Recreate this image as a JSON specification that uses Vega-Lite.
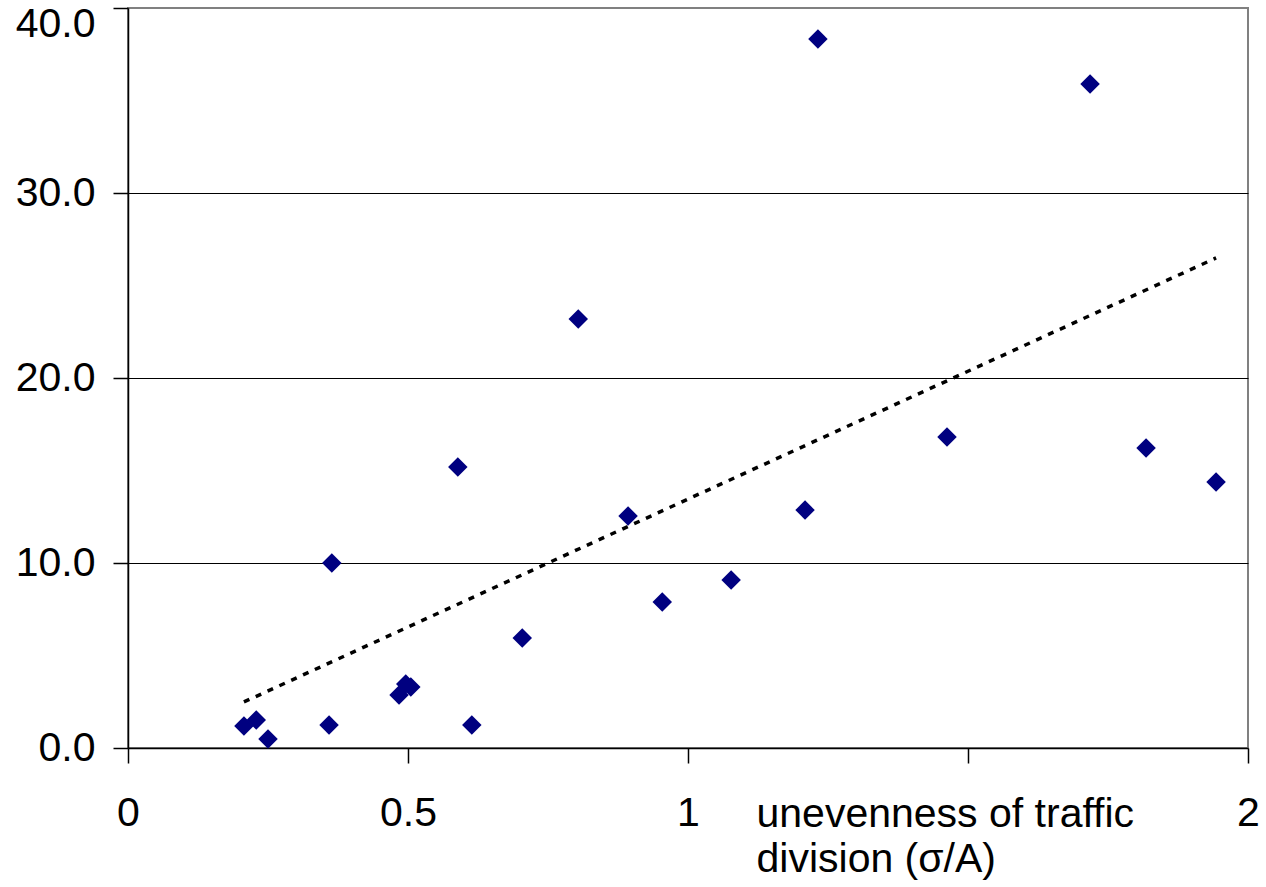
{
  "$schema": "https://vega.github.io/schema/vega-lite/v6.json",
  "width": 1120,
  "height": 740,
  "autosize": "none",
  "padding": {"left": 128, "top": 8, "right": 18, "bottom": 139},
  "background": "white",
  "config": {
    "font": "Liberation Sans",
    "view": {"stroke": "#808080", "strokeWidth": 2},
    "axis": {
      "labelFont": "Liberation Sans",
      "titleFont": "Liberation Sans",
      "labelColor": "black",
      "titleColor": "black",
      "domainColor": "black",
      "tickColor": "black",
      "labelFontSize": 41,
      "titleFontSize": 41,
      "titleFontWeight": "normal",
      "tickSize": 15,
      "domainWidth": 1.5,
      "tickWidth": 1.5
    }
  },
  "datasets": {
    "points": [
      {"x": 0.207, "y": 1.19},
      {"x": 0.229, "y": 1.51},
      {"x": 0.250, "y": 0.49},
      {"x": 0.359, "y": 1.24},
      {"x": 0.364, "y": 10.0},
      {"x": 0.484, "y": 2.86},
      {"x": 0.496, "y": 3.46},
      {"x": 0.505, "y": 3.30},
      {"x": 0.589, "y": 15.19},
      {"x": 0.614, "y": 1.24},
      {"x": 0.704, "y": 5.95},
      {"x": 0.804, "y": 23.19},
      {"x": 0.893, "y": 12.54},
      {"x": 0.954, "y": 7.89},
      {"x": 1.077, "y": 9.08},
      {"x": 1.209, "y": 12.86},
      {"x": 1.232, "y": 38.32},
      {"x": 1.4625, "y": 16.81},
      {"x": 1.718, "y": 35.89},
      {"x": 1.818, "y": 16.22},
      {"x": 1.943, "y": 14.38}
    ],
    "trend": [
      {"x": 0.207, "y": 2.49},
      {"x": 1.943, "y": 26.49}
    ]
  },
  "encoding": {
    "x": {
      "field": "x",
      "type": "quantitative",
      "scale": {"domain": [0, 2], "nice": false, "zero": false},
      "axis": {
        "values": [0, 0.5, 1, 1.5, 2],
        "labelExpr": "datum.value == 1.5 ? '' : toString(datum.value)",
        "grid": false,
        "labelPadding": 30,
        "labelFlush": false,
        "labelOverlap": false,
        "title": ["unevenness of traffic", "division (σ/A)"],
        "titleAnchor": "start",
        "titleAlign": "left",
        "titleX": 628,
        "titleY": 78,
        "titleBaseline": "alphabetic",
        "titleLineHeight": 45
      }
    },
    "y": {
      "field": "y",
      "type": "quantitative",
      "scale": {"domain": [0, 40], "nice": false},
      "axis": {
        "values": [0, 10, 20, 30, 40],
        "format": ".1f",
        "grid": true,
        "gridColor": {"condition": {"test": "datum.value == 40 || datum.value == 0", "value": "#808080"}, "value": "black"},
        "gridWidth": 1,
        "labelPadding": 18,
        "labelOffset": {"condition": {"test": "datum.value == 40", "value": 16}, "value": 0},
        "labelFlush": false,
        "labelOverlap": false,
        "title": null
      }
    }
  },
  "layer": [
    {
      "data": {"name": "trend"},
      "mark": {"type": "line", "color": "black", "strokeWidth": 3.5, "strokeDash": [6, 7]}
    },
    {
      "data": {"name": "points"},
      "mark": {"type": "point", "shape": "diamond", "filled": true, "color": "#000080", "opacity": 1, "size": 380}
    }
  ]
}
